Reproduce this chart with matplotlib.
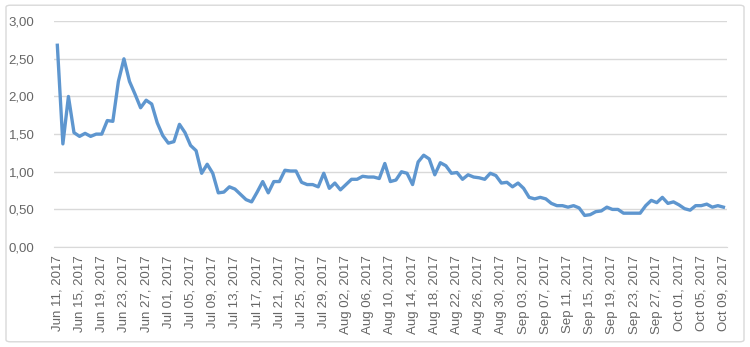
import pandas as pd
import matplotlib
matplotlib.use('Agg')
import matplotlib.pyplot as plt
from matplotlib.patches import FancyBboxPatch
from matplotlib.ticker import FuncFormatter

# daily values, Jun 11 -> Oct 09, 2017
start_date = '2017-06-11'
values = [
    2.68, 1.37, 2.00, 1.52, 1.47, 1.51, 1.47, 1.50, 1.50, 1.68,
    1.67, 2.20, 2.50, 2.20, 2.03, 1.85, 1.95, 1.90, 1.65, 1.48,
    1.38, 1.40, 1.63, 1.52, 1.35, 1.28, 0.98, 1.10, 0.98, 0.72,
    0.73, 0.80, 0.77, 0.70, 0.63, 0.60, 0.73, 0.87, 0.72, 0.87,
    0.87, 1.02, 1.01, 1.01, 0.86, 0.83, 0.83, 0.80, 0.98, 0.78,
    0.85, 0.76, 0.83, 0.90, 0.90, 0.94, 0.93, 0.93, 0.91, 1.11,
    0.87, 0.89, 1.00, 0.98, 0.83, 1.13, 1.22, 1.17, 0.96, 1.12,
    1.08, 0.98, 0.99, 0.90, 0.96, 0.93, 0.92, 0.90, 0.98, 0.95,
    0.85, 0.86, 0.80, 0.85, 0.78, 0.66, 0.64, 0.66, 0.64, 0.58,
    0.55, 0.55, 0.53, 0.55, 0.52, 0.42, 0.43, 0.47, 0.48, 0.53,
    0.50, 0.50, 0.45, 0.45, 0.45, 0.45, 0.55, 0.62, 0.59, 0.66,
    0.58, 0.60, 0.56, 0.51, 0.49, 0.55, 0.55, 0.57, 0.53, 0.55,
    0.53,
]
dates = pd.date_range(start_date, periods=len(values), freq='D')
tick_step = 4
y_ticks = [0.0, 0.5, 1.0, 1.5, 2.0, 2.5, 3.0]

plt.rcParams['font.family'] = ['Liberation Sans', 'DejaVu Sans']

fig = plt.figure(figsize=(7.5, 3.47), dpi=100)
ax = fig.add_axes([0.072, 0.288, 0.897, 0.651])

# outer chart border
fig.patches.append(FancyBboxPatch((0.008, 0.015), 0.984, 0.97,
                                  boxstyle='round,pad=0,rounding_size=0.006',
                                  transform=fig.transFigure, facecolor='none',
                                  edgecolor='#d9d9d9', linewidth=1.0))

x = list(range(len(values)))
ax.plot(x, values, color='#5e96cf', linewidth=2.4, solid_joinstyle='round')

ax.set_xlim(-0.6, len(values) - 0.4)
ax.set_ylim(0, 3)
ax.set_yticks(y_ticks)
ax.yaxis.set_major_formatter(FuncFormatter(lambda v, p: f'{v:.2f}'.replace('.', ',')))

tick_pos = x[::tick_step]
ax.set_xticks(tick_pos)
ax.set_xticklabels([dates[i].strftime('%b %d, %Y') for i in tick_pos], rotation=90)

ax.grid(axis='y', color='#d9d9d9', linewidth=1.0)
ax.set_axisbelow(True)
for s in ax.spines.values():
    s.set_visible(False)
ax.spines['bottom'].set_visible(True)
ax.spines['bottom'].set_color('#d9d9d9')
ax.tick_params(length=0, labelsize=9.5, labelcolor='#666666')
ax.tick_params(axis='y', pad=14)
ax.tick_params(axis='x', pad=6)

fig.savefig('out.png', dpi=100)
